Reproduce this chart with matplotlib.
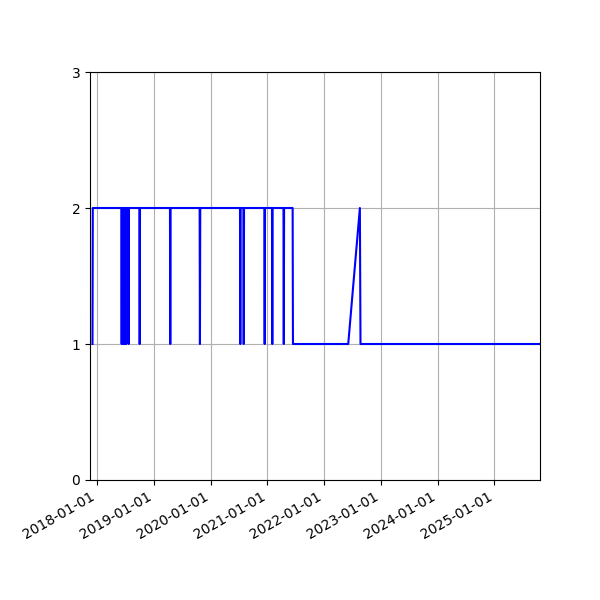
import pandas as pd
import matplotlib
matplotlib.use('Agg')
import matplotlib.pyplot as plt
import matplotlib.dates as mdates

# points of the series
dates = ['2017-12-01', '2017-12-03',
         '2018-06-05', '2018-06-07', '2018-06-09',
         '2018-06-14', '2018-06-16', '2018-06-18',
         '2018-06-24', '2018-06-26', '2018-06-28',
         '2018-07-04', '2018-07-06', '2018-07-08',
         '2018-07-20', '2018-07-22', '2018-07-24',
         '2018-09-29', '2018-10-01', '2018-10-03',
         '2019-04-14', '2019-04-16', '2019-04-18',
         '2019-10-22', '2019-10-24', '2019-10-26',
         '2020-07-08', '2020-07-10', '2020-07-12',
         '2020-07-30', '2020-08-01', '2020-08-03',
         '2020-12-12', '2020-12-14', '2020-12-16',
         '2021-01-30', '2021-02-01', '2021-02-03',
         '2021-04-14', '2021-04-16', '2021-04-18',
         '2021-06-12', '2021-06-14',
         '2022-06-05', '2022-08-19', '2022-08-23',
         '2025-10-22']
values = [1, 2,
          2, 1, 2,
          2, 1, 2,
          2, 1, 2,
          2, 1, 2,
          2, 1, 2,
          2, 1, 2,
          2, 1, 2,
          2, 1, 2,
          2, 1, 2,
          2, 1, 2,
          2, 1, 2,
          2, 1, 2,
          2, 1, 2,
          2, 1,
          1, 2, 1,
          1]
x_start = '2017-11-15'

df = pd.DataFrame({'date': pd.to_datetime(dates), 'value': values})

fig, ax = plt.subplots(figsize=(6, 6), dpi=100)
fig.subplots_adjust(left=0.15, right=0.9, top=0.88, bottom=0.2)
ax.plot(df['date'], df['value'], color='blue')
ax.set_xlim(pd.Timestamp(x_start), df['date'].iloc[-1])
ax.set_ylim(0, 3)
ax.set_yticks([0, 1, 2, 3])
ax.xaxis.set_major_locator(mdates.YearLocator())
ax.xaxis.set_major_formatter(mdates.DateFormatter('%Y-%m-%d'))
ax.grid(True)
fig.autofmt_xdate()
fig.savefig('out.png')
